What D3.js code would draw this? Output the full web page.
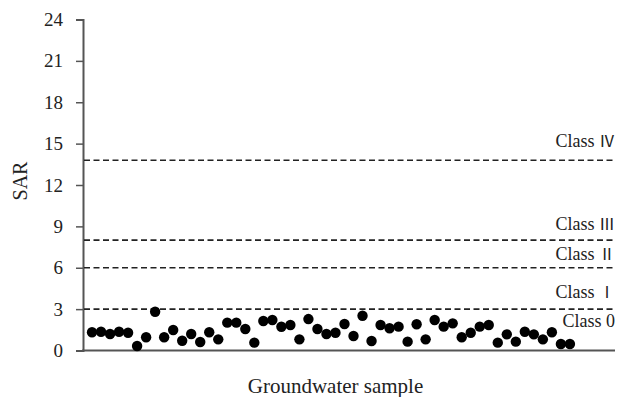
<!DOCTYPE html>
<html>
<head>
<meta charset="utf-8">
<script src="https://cdn.jsdelivr.net/npm/d3@7"></script>
<style>
  body { margin: 0; background: #fff; }
  svg text { font-family: "Times New Roman", "Liberation Serif", "DejaVu Serif", serif; fill: #222; }
  svg text tspan.num { font-family: "Noto Sans CJK JP", "Noto Sans CJK SC", serif; }
</style>
</head>
<body>
<svg id="chart" width="619" height="397"></svg>
<script>
// SAR values per groundwater sample
var sarValues = [1.32, 1.36, 1.20, 1.36, 1.29, 0.33, 0.96, 2.81, 0.96, 1.49,
  0.71, 1.20, 0.62, 1.32, 0.81, 2.02, 2.02, 1.56, 0.57, 2.14,
  2.21, 1.72, 1.85, 0.81, 2.28, 1.56, 1.20, 1.29, 1.92, 1.05,
  2.52, 0.69, 1.85, 1.61, 1.73, 0.64, 1.90, 0.81, 2.21, 1.73,
  1.97, 0.96, 1.29, 1.73, 1.85, 0.57, 1.17, 0.64, 1.36, 1.17,
  0.81, 1.32, 0.47, 0.47];

// Class boundaries and labels
var classLimits = [3, 6, 8, 13.8];
var classNames = ["0", "\u2160", "\u2161", "\u2162", "\u2163"];
var classLabelValues = [1.73, 3.79, 6.56, 8.74, 14.78];
var yTicks = [0, 3, 6, 9, 12, 15, 18, 21, 24];

var svg = d3.select("#chart");
var m = { left: 83, right: 615, top: 19.5, bottom: 350.5 };

var x = d3.scaleLinear().domain([0, 59]).range([m.left, m.right]);
var y = d3.scaleLinear().domain([0, 24]).range([m.bottom, m.top]);

// Y axis
var yAxis = svg.append("g")
  .attr("transform", "translate(" + m.left + ",0)")
  .call(d3.axisLeft(y).tickValues(yTicks).tickSize(7).tickPadding(13));
yAxis.attr("font-family", null).attr("font-size", null);
yAxis.select(".domain").attr("stroke", "#555").attr("stroke-width", 2);
yAxis.selectAll(".tick line").attr("stroke", "#555").attr("stroke-width", 1.5);
yAxis.selectAll(".tick text")
  .attr("fill", "#222")
  .style("font-size", "19px");

// Baseline
svg.append("line")
  .attr("x1", m.left - 1).attr("x2", m.right)
  .attr("y1", y(0)).attr("y2", y(0))
  .attr("stroke", "#555").attr("stroke-width", 2);

// Class boundary lines
svg.selectAll("line.limit")
  .data(classLimits)
  .enter().append("line")
  .attr("class", "limit")
  .attr("x1", m.left + 1).attr("x2", m.right)
  .attr("y1", function(d) { return y(d); })
  .attr("y2", function(d) { return y(d); })
  .attr("stroke", "#222")
  .attr("stroke-width", 1.6)
  .attr("stroke-dasharray", "6,3.5");

// Class labels
var cls = svg.selectAll("text.cls")
  .data(classNames)
  .enter().append("text")
  .attr("class", "cls")
  .attr("x", 615)
  .attr("y", function(d, i) { return y(classLabelValues[i]); })
  .attr("text-anchor", "end")
  .style("font-size", "18px");
cls.append("tspan").text(function(d, i) { return i === 0 ? "Class " : "Class  "; });
cls.append("tspan")
  .attr("class", function(d, i) { return i === 0 ? null : "num"; })
  .style("font-size", function(d, i) { return i === 0 ? "18px" : "16px"; })
  .text(function(d) { return d; });

// Points
svg.selectAll("circle.pt")
  .data(sarValues)
  .enter().append("circle")
  .attr("class", "pt")
  .attr("cx", function(d, i) { return x(i + 1); })
  .attr("cy", function(d) { return y(d); })
  .attr("r", 5.2)
  .attr("fill", "#000");

// Axis titles
svg.append("text")
  .attr("transform", "translate(27,181) rotate(-90)")
  .attr("text-anchor", "middle")
  .style("font-size", "20px")
  .text("SAR");

svg.append("text")
  .attr("x", 335.5)
  .attr("y", 393)
  .attr("text-anchor", "middle")
  .style("font-size", "21px")
  .text("Groundwater sample");
</script>
</body>
</html>
